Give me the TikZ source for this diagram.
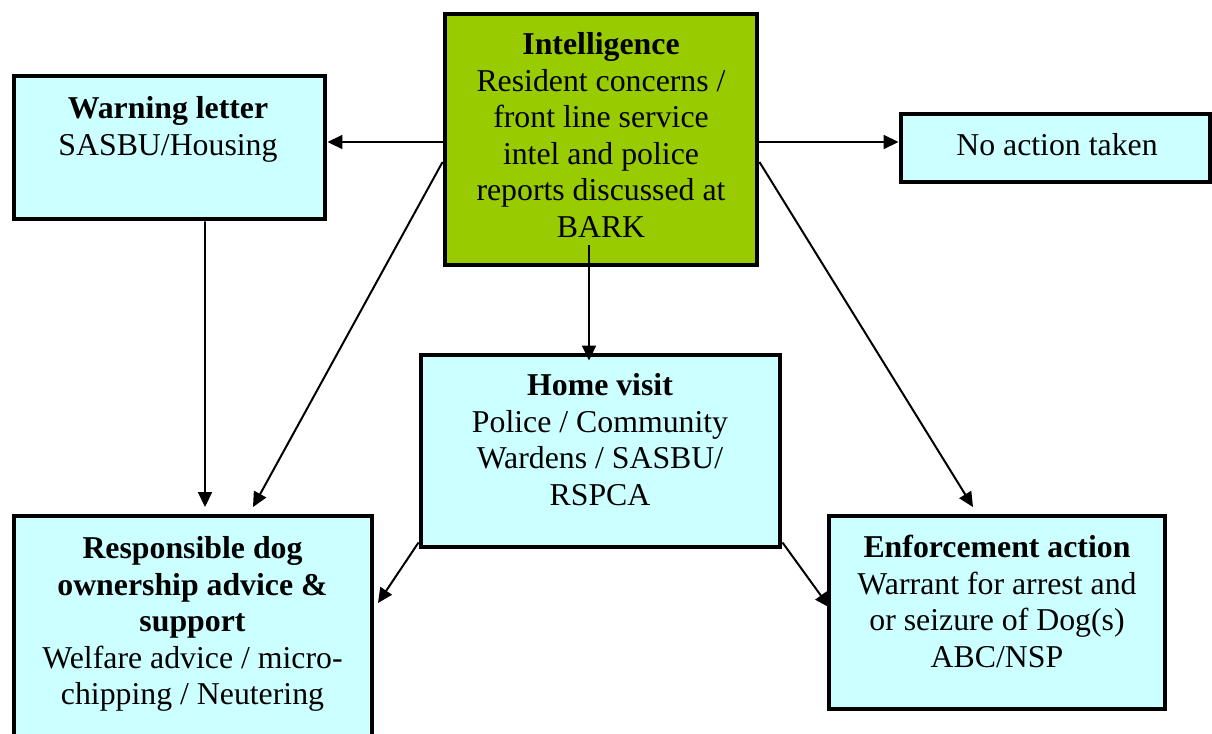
\documentclass[tikz,border=0pt]{standalone}
\usepackage{fontspec}
\setmainfont{Liberation Serif}
\usetikzlibrary{arrows.meta,calc}
\definecolor{boxcyan}{HTML}{CCFFFF}
\definecolor{intelgreen}{HTML}{99CC00}
\begin{document}
\begin{tikzpicture}[x=0.3774pt,y=-0.3774pt,
  box/.style={draw=black, line width=1.85pt, rectangle, inner sep=0pt, fill=boxcyan},
  txt/.style={anchor=north, inner sep=0pt, align=center, font=\fontsize{12}{13.81}\selectfont},
  arr/.style={line width=0.75pt, -{Triangle[length=5.6pt,width=5.2pt]}}]
\useasboundingbox (0,0) rectangle (1212,733);

% boxes
\node[box, fill=intelgreen, minimum width=312*0.3774pt, minimum height=251*0.3774pt] (intel) at (601,139.5) {};
\node[box, minimum width=311*0.3774pt, minimum height=143*0.3774pt] (warn) at (169.5,147.5) {};
\node[box, minimum width=309*0.3774pt, minimum height=68*0.3774pt] (noact) at (1055.5,148) {};
\node[box, minimum width=359*0.3774pt, minimum height=192*0.3774pt] (home) at (600.5,451) {};
\node[box, minimum width=358*0.3774pt, minimum height=244*0.3774pt] (resp) at (193,638) {};
\node[box, minimum width=336*0.3774pt, minimum height=193*0.3774pt] (enf) at (997,612.5) {};

% texts
\node[txt] (inteltxt) at (601,28.4) {\strut\textbf{Intelligence}\\Resident concerns /\\front line service\\intel and police\\reports discussed at\\BARK};
\node[txt] (warntxt) at (168,92.4) {\strut\textbf{Warning letter}\\SASBU/Housing};
\node[txt] (noacttxt) at (1057,129.4) {\strut No action taken};
\node[txt] (hometxt) at (600,369.4) {\strut\textbf{Home visit}\\Police / Community\\Wardens / SASBU/\\RSPCA};
\node[txt] (resptxt) at (192.5,532.4) {\strut\textbf{Responsible dog}\\\textbf{ownership advice \&}\\\textbf{support}\\Welfare advice / micro-\\chipping / Neutering};
\node[txt] (enftxt) at (997,531.4) {\strut\textbf{Enforcement action}\\Warrant for arrest and\\or seizure of Dog(s)\\ABC/NSP};

% connector end points
\coordinate (bark) at (589,245);
\coordinate (iw) at ($(intel.west)+(0,2.5)$);
\coordinate (ie) at ($(intel.east)+(0,2.5)$);
\coordinate (iwd) at ($(intel.west)+(0,22.5)$);
\coordinate (ied) at ($(intel.east)+(0,22.5)$);
\coordinate (ws) at ($(warn.south)+(35.5,0)$);
\coordinate (rn1) at ($(resp.north)+(12,-6.5)$);
\coordinate (rn2) at ($(resp.north)+(60,-6.5)$);
\coordinate (en) at ($(enf.north)+(-24,-6.5)$);
\coordinate (hsw) at ($(home.south west)+(0,-7)$);
\coordinate (hse) at ($(home.south east)+(0,-7)$);
\coordinate (re) at ($(resp.north east)+(3.5,89.5)$);
\coordinate (ew) at ($(enf.west)+(3,-5)$);
\coordinate (hn) at ($(bark |- home.north)+(0,8)$);

% connectors
\draw[arr] (iw) -- (iw -| warn.east);
\draw[arr] (ie) -- (ie -| noact.west);
\draw[arr] (bark) -- (hn);
\draw[arr] (ws) -- (rn1);
\draw[arr] (iwd) -- (rn2);
\draw[arr] (ied) -- (en);
\draw[arr] (hsw) -- (re);
\draw[arr] (hse) -- (ew);
\end{tikzpicture}
\end{document}
